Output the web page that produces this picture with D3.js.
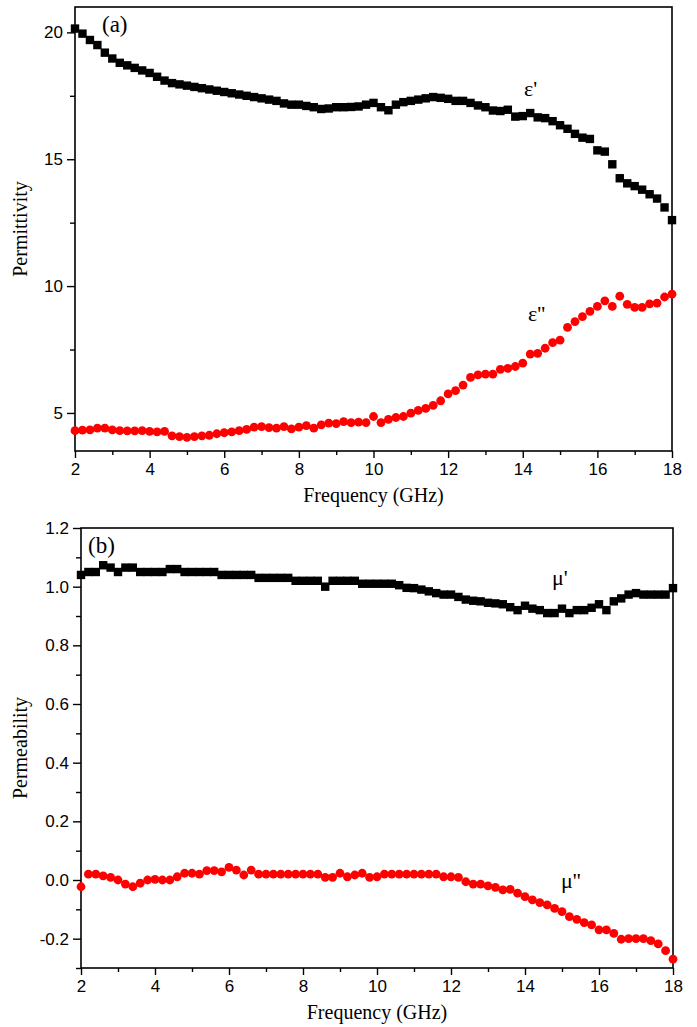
<!DOCTYPE html>
<html><head><meta charset="utf-8">
<script src="https://cdn.jsdelivr.net/npm/d3@7"></script>
<style>body{margin:0;background:#fff;} svg{display:block;}</style>
</head><body>
<svg id="c" width="697" height="1027"></svg>
<script>
const freq = [2.0,2.2,2.4,2.6,2.8,3.0,3.2,3.4,3.6,3.8,4.0,4.2,4.4,4.6,4.8,5.0,5.2,5.4,5.6,5.8,6.0,6.2,6.4,6.6,6.8,7.0,7.2,7.4,7.6,7.8,8.0,8.2,8.4,8.6,8.8,9.0,9.2,9.4,9.6,9.8,10.0,10.2,10.4,10.6,10.8,11.0,11.2,11.4,11.6,11.8,12.0,12.2,12.4,12.6,12.8,13.0,13.2,13.4,13.6,13.8,14.0,14.2,14.4,14.6,14.8,15.0,15.2,15.4,15.6,15.8,16.0,16.2,16.4,16.6,16.8,17.0,17.2,17.4,17.6,17.8,18.0];
const epsReal = [20.15,19.95,19.7,19.5,19.2,18.97,18.8,18.7,18.6,18.5,18.4,18.25,18.1,18.0,17.95,17.9,17.85,17.8,17.75,17.7,17.65,17.6,17.55,17.5,17.45,17.4,17.35,17.3,17.2,17.15,17.15,17.1,17.05,16.98,17.0,17.05,17.05,17.06,17.08,17.15,17.22,17.05,16.93,17.15,17.25,17.3,17.35,17.4,17.45,17.42,17.38,17.3,17.3,17.22,17.12,17.05,16.92,16.9,16.95,16.68,16.7,16.82,16.65,16.62,16.5,16.34,16.2,16.0,15.85,15.8,15.35,15.3,14.8,14.25,14.05,13.94,13.8,13.62,13.45,13.1,12.6];
const epsImag = [4.3,4.32,4.33,4.4,4.4,4.33,4.3,4.29,4.29,4.3,4.27,4.25,4.27,4.1,4.07,4.04,4.07,4.1,4.12,4.18,4.22,4.25,4.3,4.35,4.44,4.46,4.42,4.4,4.46,4.37,4.44,4.5,4.4,4.53,4.6,4.58,4.66,4.62,4.64,4.62,4.86,4.62,4.75,4.82,4.86,4.99,5.1,5.18,5.3,5.48,5.75,5.88,6.1,6.4,6.5,6.53,6.53,6.72,6.76,6.83,6.96,7.32,7.35,7.55,7.77,7.87,8.37,8.6,8.8,9.0,9.2,9.42,9.2,9.6,9.28,9.16,9.16,9.3,9.33,9.57,9.68];
const muReal = [1.04,1.05,1.05,1.073,1.065,1.05,1.065,1.065,1.05,1.05,1.05,1.05,1.06,1.06,1.05,1.05,1.05,1.05,1.05,1.04,1.04,1.04,1.04,1.04,1.03,1.03,1.03,1.03,1.03,1.02,1.02,1.02,1.02,1.0,1.02,1.02,1.02,1.02,1.01,1.01,1.01,1.01,1.01,1.005,0.996,0.995,0.99,0.984,0.978,0.973,0.973,0.965,0.956,0.952,0.95,0.945,0.943,0.94,0.93,0.92,0.935,0.925,0.92,0.91,0.91,0.925,0.91,0.92,0.92,0.928,0.94,0.92,0.95,0.96,0.973,0.978,0.973,0.973,0.973,0.973,0.995];
const muImag = [-0.023,0.02,0.02,0.014,0.009,0.0,-0.014,-0.023,-0.011,0.0,0.002,0.0,0.0,0.011,0.023,0.023,0.02,0.032,0.032,0.028,0.043,0.034,0.017,0.034,0.02,0.02,0.02,0.02,0.02,0.02,0.02,0.02,0.02,0.009,0.009,0.023,0.011,0.017,0.023,0.009,0.011,0.02,0.02,0.02,0.02,0.02,0.02,0.02,0.02,0.011,0.011,0.009,-0.006,-0.014,-0.014,-0.02,-0.025,-0.034,-0.032,-0.045,-0.057,-0.068,-0.077,-0.085,-0.097,-0.108,-0.125,-0.134,-0.145,-0.153,-0.17,-0.17,-0.182,-0.202,-0.2,-0.2,-0.2,-0.207,-0.218,-0.241,-0.27];

const xTicks = [2,4,6,8,10,12,14,16,18];
const xMinor = [3,5,7,9,11,13,15,17];
const yTicksA = [5,10,15,20];
const yMinorA = [7.5,12.5,17.5];
const yTicksB = [-0.2,0.0,0.2,0.4,0.6,0.8,1.0,1.2];
const yMinorB = [-0.3,-0.1,0.1,0.3,0.5,0.7,0.9,1.1];

const svg = d3.select("#c");
const sans = "'Liberation Sans', Arial, sans-serif";
const serif = "'Liberation Serif', 'Times New Roman', serif";
const fmtB = d => d.toFixed(1).replace("−","-");

function panel(o){
  const g = svg.append("g");
  const x = d3.scaleLinear().domain([2,18]).range([o.left,o.right]);
  const y = d3.scaleLinear().domain(o.ydom).range([o.bottom,o.top]);
  g.append("rect").attr("x",o.left).attr("y",o.top).attr("width",o.right-o.left).attr("height",o.bottom-o.top)
    .attr("fill","none").attr("stroke","#000").attr("stroke-width",1.6);
  g.append("g").attr("transform",`translate(0,${o.bottom})`)
    .call(d3.axisBottom(x).tickValues(xTicks).tickSize(7).tickPadding(5).tickFormat(d3.format("d")));
  g.append("g").attr("transform",`translate(0,${o.bottom})`)
    .call(d3.axisBottom(x).tickValues(xMinor).tickSize(4).tickFormat(""));
  g.append("g").attr("transform",`translate(${o.left},0)`)
    .call(d3.axisLeft(y).tickValues(o.yt).tickSize(8).tickPadding(4).tickFormat(o.fmt));
  g.append("g").attr("transform",`translate(${o.left},0)`)
    .call(d3.axisLeft(y).tickValues(o.ym).tickSize(5).tickFormat(""));
  g.selectAll(".domain").remove();
  g.selectAll(".tick line").attr("stroke","#000").attr("stroke-width",1.4);
  g.selectAll(".tick text").attr("font-family",sans).attr("font-size",17).attr("fill","#000");
  g.append("g").selectAll("rect").data(freq.map((f,i)=>[f,o.s1[i]])).join("rect")
    .attr("x",d=>x(d[0])-4.2).attr("y",d=>y(d[1])-4.2).attr("width",8.4).attr("height",8.4).attr("fill","#000");
  g.append("g").selectAll("circle").data(freq.map((f,i)=>[f,o.s2[i]])).join("circle")
    .attr("cx",d=>x(d[0])).attr("cy",d=>y(d[1])).attr("r",4.4).attr("fill","#ff0000");
  g.append("text").attr("x",(o.left+o.right)/2).attr("y",o.bottom+51).attr("text-anchor","middle")
    .attr("font-family",serif).attr("font-size",20).text("Frequency (GHz)");
  g.append("text").attr("transform",`translate(27,${(o.top+o.bottom)/2}) rotate(-90)`).attr("text-anchor","middle")
    .attr("font-family",serif).attr("font-size",20).text(o.ylabel);
  g.append("text").attr("x",o.tagX).attr("y",o.top+25).attr("font-family",serif).attr("font-size",23).text(o.tag);
  o.notes.forEach(n=>{
    g.append("text").attr("x",n[0]).attr("y",n[1]).attr("font-family",serif).attr("font-size",22).text(n[2]);
  });
}

panel({left:75,right:672,top:7,bottom:451,ydom:[3.5,21],yt:yTicksA,ym:yMinorA,fmt:d3.format("d"),
  s1:epsReal,s2:epsImag,ylabel:"Permittivity",tag:"(a)",tagX:102,
  notes:[[524,96,"ε'"],[528,321,"ε''"]]});
panel({left:81,right:673,top:528,bottom:968,ydom:[-0.3,1.2],yt:yTicksB,ym:yMinorB,fmt:fmtB,
  s1:muReal,s2:muImag,ylabel:"Permeability",tag:"(b)",tagX:88,
  notes:[[552,585,"μ'"],[561,888,"μ''"]]});
</script>
</body></html>
